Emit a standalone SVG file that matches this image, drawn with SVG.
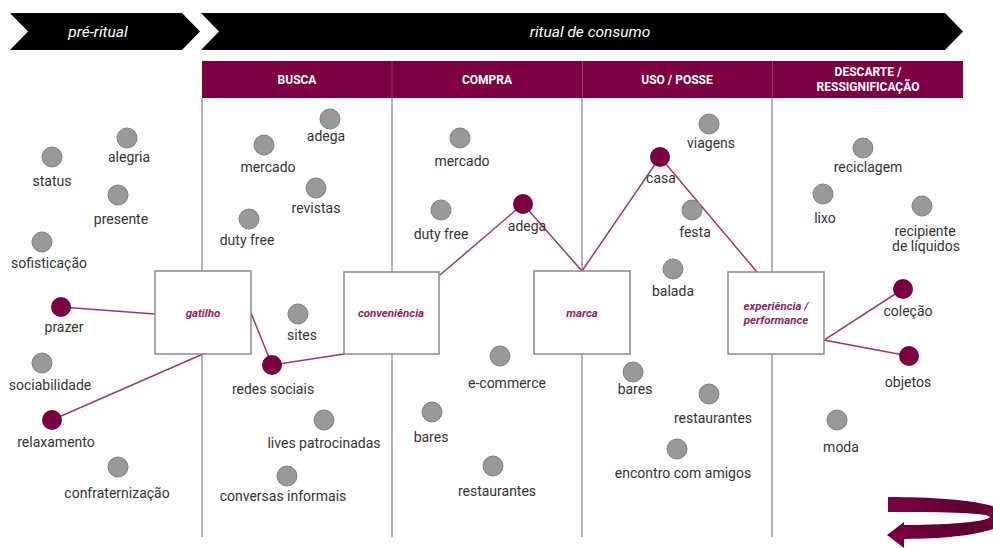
<svg xmlns="http://www.w3.org/2000/svg" width="993" height="548" viewBox="0 0 993 548">
<defs>
<style>
.lbl{font-family:Roboto,"Liberation Sans",sans-serif;font-size:14px;fill:#333;text-anchor:middle}
.hdr{font-family:Roboto,"Liberation Sans",sans-serif;font-size:12px;font-weight:bold;fill:#fff;text-anchor:middle}
.ban{font-family:Roboto,"Liberation Sans",sans-serif;font-size:15.5px;font-style:italic;fill:#fff;text-anchor:middle}
.bxt{font-family:Roboto,"Liberation Sans",sans-serif;font-size:11.5px;font-style:italic;font-weight:bold;fill:#8e1f5e;text-anchor:middle}
.g{fill:#999;stroke:#808080;stroke-width:1}
.m{fill:#7a0040}
.box{fill:#fff;stroke:#8a8a8a;stroke-width:1.5}
.vl{stroke:#9a9a9a;stroke-width:1.5}
.cn{stroke:#a23570;stroke-width:1.5;fill:none}
</style>
<linearGradient id="arr" x1="0" y1="0" x2="1" y2="0">
<stop offset="0" stop-color="#7a0040"/>
<stop offset="0.7" stop-color="#5e0030"/>
<stop offset="1" stop-color="#7a0040"/>
</linearGradient>
</defs>
<rect width="993" height="548" fill="#fff"/>

<g id="banners">
<polygon points="10,13 182,13 200,31.5 182,50 10,50 28,31.5" fill="#000"/>
<text class="ban" x="98" y="37">pré-ritual</text>
<polygon points="201,13 945,13 963,31.5 945,50 201,50 219,31.5" fill="#000"/>
<text class="ban" x="590" y="37">ritual de consumo</text>
</g>

<g id="header">
<rect x="202" y="61" width="761" height="37" fill="#7d0042"/>
<line x1="392" y1="61" x2="392" y2="98" stroke="#9a3a6a" stroke-width="1"/>
<line x1="582.5" y1="61" x2="582.5" y2="98" stroke="#9a3a6a" stroke-width="1"/>
<line x1="772.5" y1="61" x2="772.5" y2="98" stroke="#9a3a6a" stroke-width="1"/>
<text class="hdr" x="297" y="84">BUSCA</text>
<text class="hdr" x="487" y="84">COMPRA</text>
<text class="hdr" x="677" y="84">USO / POSSE</text>
<text class="hdr" x="868" y="76">DESCARTE /</text>
<text class="hdr" x="868" y="91">RESSIGNIFICAÇÃO</text>
</g>

<g id="lanes">
<line class="vl" x1="202" y1="98" x2="202" y2="537"/>
<line class="vl" x1="392" y1="98" x2="392" y2="537"/>
<line class="vl" x1="582" y1="98" x2="582" y2="537"/>
<line class="vl" x1="772" y1="98" x2="772" y2="537"/>
</g>

<g id="connectors">
<line class="cn" x1="61" y1="307" x2="155" y2="314"/>
<line class="cn" x1="52" y1="420" x2="203" y2="354"/>
<line class="cn" x1="251" y1="313" x2="272" y2="365"/>
<line class="cn" x1="272" y1="365" x2="344" y2="354"/>
<polyline class="cn" points="440,275 523,204 582,271 660,157 757,272"/>
<polyline class="cn" points="903,289 824,340 909,356"/>
</g>

<g id="box-gatilho"><rect class="box" x="155" y="271" width="96" height="83"/><text class="bxt" x="203" y="317">gatilho</text></g>
<g id="box-conveniencia"><rect class="box" x="344" y="272" width="95" height="82"/><text class="bxt" x="391" y="317">conveniência</text></g>
<g id="box-marca"><rect class="box" x="534" y="271" width="96" height="83"/><text class="bxt" x="582" y="317">marca</text></g>
<g id="box-experiencia"><rect class="box" x="728" y="272" width="96" height="82"/><text class="bxt" x="776" y="310">experiência /</text><text class="bxt" x="776" y="324">performance</text></g>

<g id="n-alegria"><circle class="g" cx="127" cy="138" r="10"/><text class="lbl" x="129" y="162">alegria</text></g>
<g id="n-status"><circle class="g" cx="52" cy="157" r="10"/><text class="lbl" x="52" y="186">status</text></g>
<g id="n-presente"><circle class="g" cx="118" cy="195" r="10"/><text class="lbl" x="121" y="224">presente</text></g>
<g id="n-sofisticacao"><circle class="g" cx="42" cy="242" r="10"/><text class="lbl" x="49" y="268">sofisticação</text></g>
<g id="n-prazer"><circle class="m" cx="61" cy="307" r="10"/><text class="lbl" x="64" y="332">prazer</text></g>
<g id="n-sociabilidade"><circle class="g" cx="42" cy="363" r="10"/><text class="lbl" x="50" y="390">sociabilidade</text></g>
<g id="n-relaxamento"><circle class="m" cx="52" cy="420" r="10"/><text class="lbl" x="56" y="447">relaxamento</text></g>
<g id="n-confraternizacao"><circle class="g" cx="118" cy="467" r="10"/><text class="lbl" x="117" y="498">confraternização</text></g>

<g id="n-busca-adega"><circle class="g" cx="330" cy="119" r="10"/><text class="lbl" x="326" y="141">adega</text></g>
<g id="n-busca-mercado"><circle class="g" cx="264" cy="145" r="10"/><text class="lbl" x="268" y="172">mercado</text></g>
<g id="n-revistas"><circle class="g" cx="316" cy="188" r="10"/><text class="lbl" x="316" y="213">revistas</text></g>
<g id="n-busca-dutyfree"><circle class="g" cx="249" cy="219" r="10"/><text class="lbl" x="247" y="245">duty free</text></g>
<g id="n-sites"><circle class="g" cx="298" cy="314" r="10"/><text class="lbl" x="302" y="340">sites</text></g>
<g id="n-redes"><circle class="m" cx="272" cy="365" r="10"/><text class="lbl" x="273" y="394">redes sociais</text></g>
<g id="n-lives"><circle class="g" cx="324" cy="420" r="10"/><text class="lbl" x="324" y="448">lives patrocinadas</text></g>
<g id="n-conversas"><circle class="g" cx="287" cy="476" r="10"/><text class="lbl" x="283" y="501">conversas informais</text></g>

<g id="n-compra-mercado"><circle class="g" cx="460" cy="138" r="10"/><text class="lbl" x="462" y="166">mercado</text></g>
<g id="n-compra-dutyfree"><circle class="g" cx="441" cy="210" r="10"/><text class="lbl" x="441" y="239">duty free</text></g>
<g id="n-compra-adega"><circle class="m" cx="523" cy="204" r="10"/><text class="lbl" x="527" y="231">adega</text></g>
<g id="n-ecommerce"><circle class="g" cx="500" cy="356" r="10"/><text class="lbl" x="507" y="388">e-commerce</text></g>
<g id="n-compra-bares"><circle class="g" cx="432" cy="412" r="10"/><text class="lbl" x="431" y="442">bares</text></g>
<g id="n-compra-restaurantes"><circle class="g" cx="493" cy="466" r="10"/><text class="lbl" x="497" y="496">restaurantes</text></g>

<g id="n-viagens"><circle class="g" cx="709" cy="124" r="10"/><text class="lbl" x="711" y="148">viagens</text></g>
<g id="n-casa"><circle class="m" cx="660" cy="157" r="10"/><text class="lbl" x="661" y="183">casa</text></g>
<g id="n-festa"><circle class="g" cx="692" cy="210" r="10"/><text class="lbl" x="695" y="237">festa</text></g>
<g id="n-balada"><circle class="g" cx="673" cy="269" r="10"/><text class="lbl" x="673" y="296">balada</text></g>
<g id="n-uso-bares"><circle class="g" cx="633" cy="372" r="10"/><text class="lbl" x="635" y="394">bares</text></g>
<g id="n-uso-restaurantes"><circle class="g" cx="709" cy="394" r="10"/><text class="lbl" x="713" y="423">restaurantes</text></g>
<g id="n-encontro"><circle class="g" cx="677" cy="449" r="10"/><text class="lbl" x="683" y="478">encontro com amigos</text></g>

<g id="n-reciclagem"><circle class="g" cx="863" cy="148" r="10"/><text class="lbl" x="868" y="172">reciclagem</text></g>
<g id="n-lixo"><circle class="g" cx="823" cy="194" r="10"/><text class="lbl" x="825" y="223">lixo</text></g>
<g id="n-recipiente"><circle class="g" cx="922" cy="206" r="10"/><text class="lbl" x="925" y="236">recipiente</text><text class="lbl" x="926" y="251">de líquidos</text></g>
<g id="n-colecao"><circle class="m" cx="903" cy="289" r="10"/><text class="lbl" x="908" y="316">coleção</text></g>
<g id="n-objetos"><circle class="m" cx="909" cy="356" r="10"/><text class="lbl" x="908" y="387">objetos</text></g>
<g id="n-moda"><circle class="g" cx="837" cy="420" r="10"/><text class="lbl" x="841" y="452">moda</text></g>

<g id="cycle-arrow">
<path d="M888,497 C950,497 1008,503 1008,517 C1008,531 960,539 904,539 L904,548 L887,535 L904,522 L904,525 C955,525 988,521 990,517 C988,513 950,512 888,512 Z" fill="url(#arr)"/>
</g>
</svg>
